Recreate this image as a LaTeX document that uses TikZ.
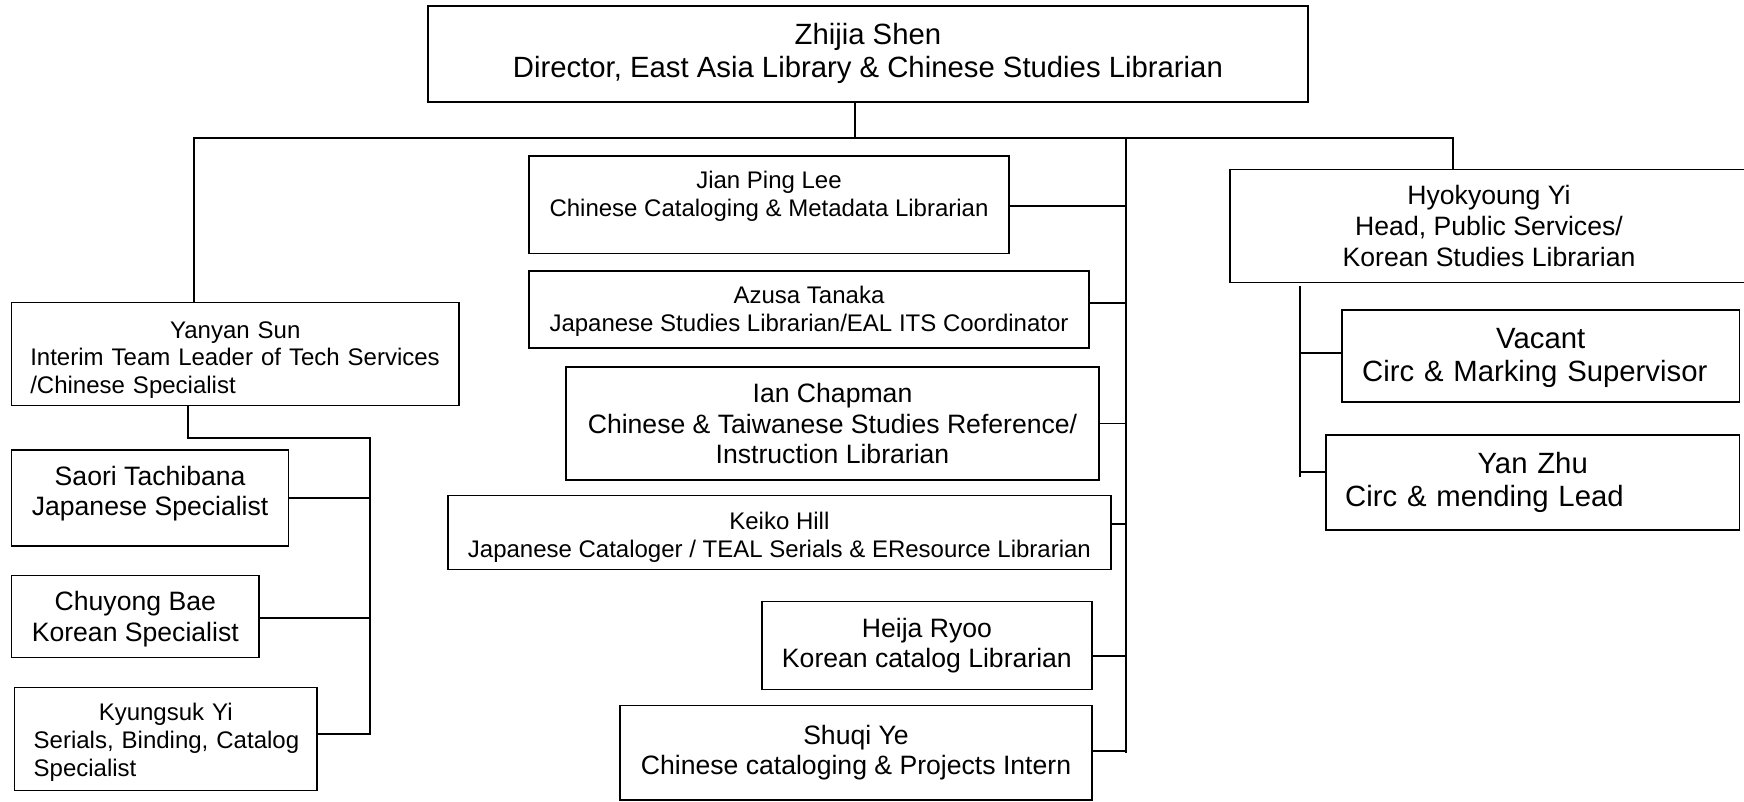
\documentclass[tikz,border=0pt]{standalone}
\usepackage{fontspec}
\setmainfont{Liberation Sans}
\tikzset{
  box/.style={draw=black, line width=1.5pt, inner sep=0pt, align=center},
  fA/.style={font=\fontsize{29.3}{33}\selectfont},
  fB/.style={font=\fontsize{26.6}{30.6}\selectfont},
  fC/.style={font=\fontsize{24}{27.7}\selectfont},
  wire/.style={line width=1.8pt, line cap=rect},
}
\hyphenpenalty=10000
\begin{document}
\begin{tikzpicture}[x=1pt,y=-1pt]
\useasboundingbox (0,0) rectangle (1744,801);
\fill[white] (0,0) rectangle (1744,801);
\clip (0,0) rectangle (1744,801);

% top
\node[box,fA,minimum width=880.3pt,minimum height=96.3pt] (top) at (867.9,53.9)
  {Zhijia Shen\\Director, East Asia Library \& Chinese Studies Librarian};

% middle column
\node[box,fC,minimum width=480pt,minimum height=97.9pt] (jian) at (769,204.7)
  {\rule{0pt}{23.5pt}Jian Ping Lee\\Chinese Cataloging \& Metadata Librarian\\\mbox{}};
\node[box,fC,minimum width=560pt,minimum height=77.3pt] (azusa) at (809,309.4)
  {\rule{0pt}{21pt}Azusa Tanaka\\Japanese Studies Librarian/EAL ITS Coordinator};
\node[box,fB,minimum width=533pt,minimum height=113pt] (ian) at (832.5,423.5)
  {Ian Chapman\\Chinese \& Taiwanese Studies Reference/\\Instruction Librarian};
\node[box,fC,minimum width=663.2pt,minimum height=73.8pt] (keiko) at (779.4,532.6)
  {\rule{0pt}{27pt}Keiko Hill\\Japanese Cataloger / TEAL Serials \& EResource Librarian};
\node[box,fB,minimum width=330.2pt,minimum height=87.6pt] (heija) at (926.9,645.5)
  {Heija Ryoo\\Korean catalog Librarian};
\node[box,fB,minimum width=472pt,minimum height=94.7pt] (shuqi) at (856,752.7)
  {Shuqi Ye\\Chinese cataloging \& Projects Intern};

% left column
\node[box,fC,minimum width=447.5pt,minimum height=103pt,text width=410pt,align=left] (yanyan) at (235.3,354.2)
  {\rule{0pt}{28pt}\makebox[410pt]{Yanyan Sun}\\\mbox{Interim Team Leader of Tech Services}\\/Chinese Specialist};
\node[box,fB,minimum width=277.2pt,minimum height=95.7pt] (saori) at (150.1,497.9)
  {Saori Tachibana\\Japanese Specialist\rule[-14pt]{0pt}{1pt}};
\node[box,fB,minimum width=247.5pt,minimum height=82pt] (chuyong) at (135.3,616.3)
  {\rule{0pt}{25pt}Chuyong Bae\\Korean Specialist};
\node[box,fC,minimum width=302.5pt,minimum height=103.4pt,text width=264pt,align=left] (kyungsuk) at (165.7,739)
  {\rule{0pt}{24pt}\makebox[264pt]{Kyungsuk Yi}\\\mbox{Serials, Binding, Catalog}\\Specialist};

% right column
\node[box,fB,minimum width=518pt,minimum height=113.4pt] (hyo) at (1489,226)
  {Hyokyoung Yi\\Head, Public Services/\\Korean Studies Librarian};
\node[box,fA,minimum width=397.4pt,minimum height=91.7pt,text width=357pt,align=left] (vacant) at (1540.7,355.9)
  {\rule{0pt}{25pt}\makebox[357pt]{Vacant}\\Circ \& Marking Supervisor};
\node[box,fA,minimum width=413.4pt,minimum height=95pt,text width=375pt,align=left] (yanzhu) at (1532.7,482.5)
  {\makebox[375pt]{Yan Zhu}\\Circ \& mending Lead};

% bus lines
\coordinate (busL) at (194,137.7);
\coordinate (busR) at (1453,137.7);
\coordinate (mbusT) at (1126,137.7);
\coordinate (mbusB) at (1126,752.3);
\coordinate (tsT) at (370,437.7);
\coordinate (tsB) at (370,734);
\coordinate (psT) at (1300,286.7);
\coordinate (psB) at (1300,476);

\draw[wire] ([xshift=-12.9pt]top.south) -- ([xshift=-12.9pt]top.south |- busL);
\draw[wire] (busL) -- (busR);
\draw[wire] (busL) -- (busL |- yanyan.north);
\draw[wire] (busR) -- (busR |- hyo.north);

% middle
\draw[wire] (mbusT) -- (mbusB);
\draw[wire] ([yshift=-1pt]jian.east) -- ([yshift=-1pt]jian.east -| mbusT);
\draw[wire] ([yshift=6.7pt]azusa.east) -- ([yshift=6.7pt]azusa.east -| mbusT);
\draw[wire] (ian.east) -- (ian.east -| mbusT);
\draw[wire] ([yshift=8.3pt]keiko.east) -- ([yshift=8.3pt]keiko.east -| mbusT);
\draw[wire] ([yshift=-10.5pt]heija.east) -- ([yshift=-10.5pt]heija.east -| mbusT);
\draw[wire] ([yshift=1.7pt]shuqi.east) -- ([yshift=1.7pt]shuqi.east -| mbusT);

% tech services
\draw[wire] ([xshift=-47.6pt]yanyan.south) |- (tsT);
\draw[wire] (tsT) -- (tsB);
\draw[wire] (saori.east) -- (saori.east -| tsT);
\draw[wire] ([yshift=-2pt]chuyong.east) -- ([yshift=-2pt]chuyong.east -| tsT);
\draw[wire] ([yshift=5pt]kyungsuk.east) -- ([yshift=5pt]kyungsuk.east -| tsT);

% public services
\draw[wire] (psT) -- (psB);
\draw[wire] ([yshift=3.2pt]vacant.west) -- ([yshift=3.2pt]vacant.west -| psT);
\draw[wire] ([yshift=10.8pt]yanzhu.west) -- ([yshift=10.8pt]yanzhu.west -| psT);
\end{tikzpicture}
\end{document}
